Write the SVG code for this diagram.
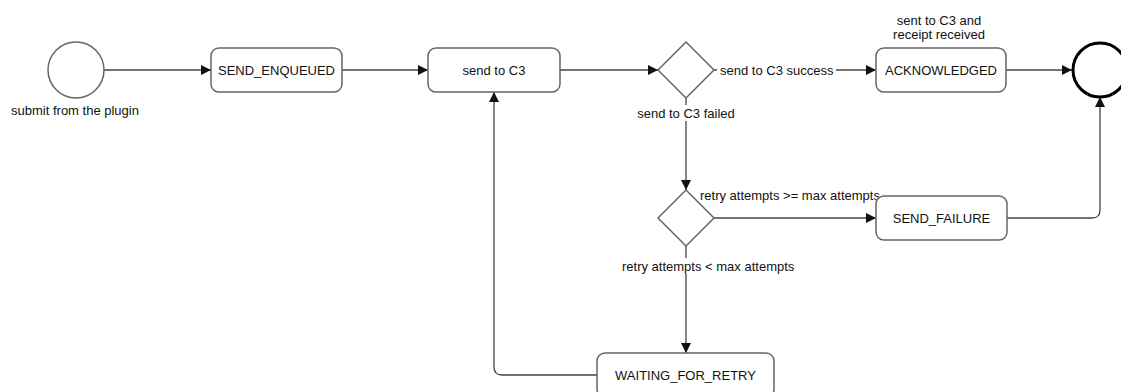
<svg xmlns="http://www.w3.org/2000/svg" width="1121" height="392" viewBox="0 0 1121 392">
<style>
.node{fill:#fff;stroke:#666;stroke-width:1.5}
.edge{fill:none;stroke:#444;stroke-width:1.3}
text{font-family:"Liberation Sans",Arial,sans-serif;font-size:13px;fill:#111}
.c{text-anchor:middle}
.lblbg{fill:#fff}
</style>
<defs>
<marker id="arr" viewBox="0 0 10 10" refX="10" refY="5" markerWidth="10" markerHeight="10" markerUnits="userSpaceOnUse" orient="auto">
<path d="M0,0 L10,5 L0,10 z" fill="#111"/>
</marker>
</defs>
<rect width="1121" height="392" fill="#fff"/>
<g id="connectors">
<line class="edge" x1="104" y1="70" x2="211" y2="70" marker-end="url(#arr)"/>
<line class="edge" x1="342" y1="70" x2="428" y2="70" marker-end="url(#arr)"/>
<line class="edge" x1="560" y1="70" x2="658" y2="70" marker-end="url(#arr)"/>
<line class="edge" x1="714" y1="70" x2="876" y2="70" marker-end="url(#arr)"/>
<line class="edge" x1="1006" y1="70" x2="1072" y2="70" marker-end="url(#arr)"/>
<line class="edge" x1="686" y1="98" x2="686" y2="190" marker-end="url(#arr)"/>
<line class="edge" x1="714" y1="218" x2="876" y2="218" marker-end="url(#arr)"/>
<line class="edge" x1="686" y1="246" x2="686" y2="353" marker-end="url(#arr)"/>
<path class="edge" d="M597,375 H502 Q494,375 494,367 V92" marker-end="url(#arr)"/>
<path class="edge" d="M1007,218 H1092 Q1100,218 1100,210 V97" marker-end="url(#arr)"/>
<rect class="lblbg" x="717" y="62" width="119" height="16"/>
<text x="720" y="75">send to C3 success</text>
<rect class="lblbg" x="636" y="105" width="100" height="16"/>
<text class="c" x="686" y="117.5">send to C3 failed</text>
<text x="700" y="200">retry attempts &gt;= max attempts</text>
<rect class="lblbg" x="620" y="258" width="177" height="16"/>
<text x="622" y="270.5">retry attempts &lt; max attempts</text>
</g>
<g id="start">
<circle class="node" cx="76" cy="70" r="28"/>
<text class="c" x="75" y="114.5">submit from the plugin</text>
</g>
<g id="send_enqueued">
<rect class="node" x="211" y="48" width="131" height="44" rx="8"/>
<text class="c" x="276.5" y="75">SEND_ENQUEUED</text>
</g>
<g id="send_to_c3">
<rect class="node" x="428" y="48" width="132" height="44" rx="8"/>
<text class="c" x="494" y="75">send to C3</text>
</g>
<g id="decision1">
<polygon class="node" points="686,42 714,70 686,98 658,70"/>
</g>
<g id="acknowledged">
<rect class="node" x="876" y="48" width="130" height="44" rx="8"/>
<text class="c" x="941" y="75">ACKNOWLEDGED</text>
<text class="c" x="939" y="24.5">sent to C3 and</text>
<text class="c" x="939" y="39">receipt received</text>
</g>
<g id="end">
<circle cx="1100" cy="70" r="27" fill="#fff" stroke="#000" stroke-width="3"/>
</g>
<g id="decision2">
<polygon class="node" points="686,190 714,218 686,246 658,218"/>
</g>
<g id="send_failure">
<rect class="node" x="876" y="196" width="131" height="44" rx="8"/>
<text class="c" x="941.5" y="222.5">SEND_FAILURE</text>
</g>
<g id="waiting_for_retry">
<rect class="node" x="597" y="353" width="177" height="44" rx="8"/>
<text class="c" x="685.5" y="379.5">WAITING_FOR_RETRY</text>
</g>
</svg>
